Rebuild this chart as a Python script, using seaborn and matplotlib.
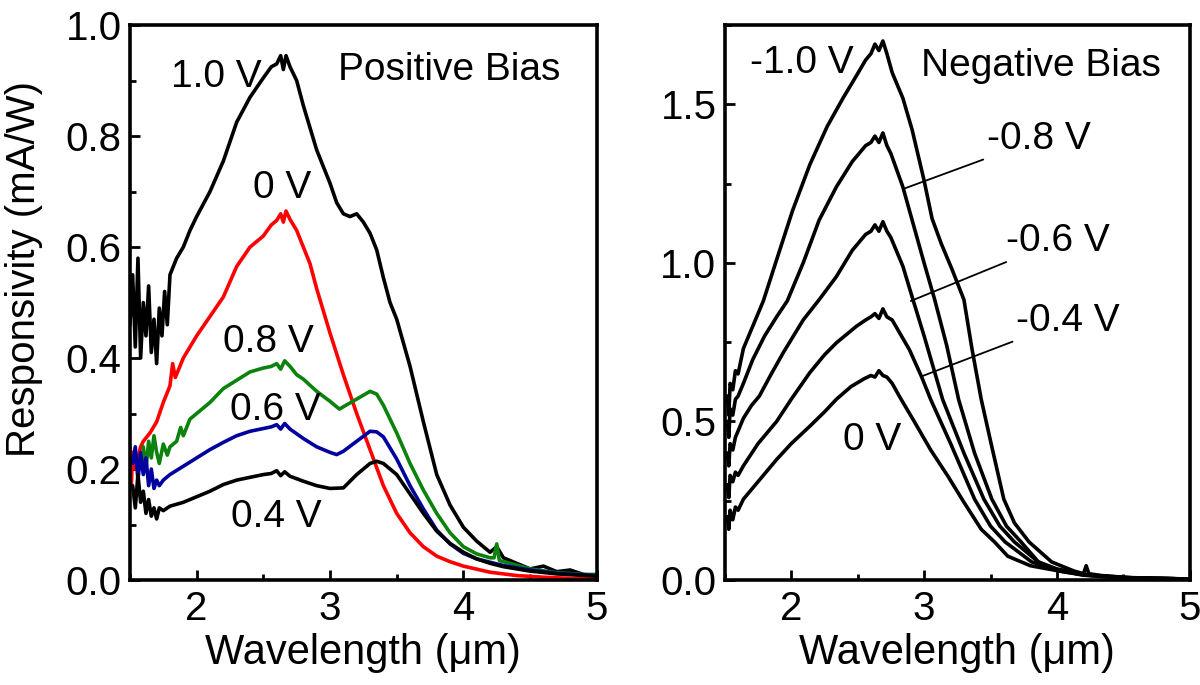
import numpy as np
import pandas as pd
import seaborn as sns
import matplotlib.pyplot as plt
from matplotlib.ticker import MultipleLocator

# ===============================
# Positive bias curves (left panel)
# ===============================
pos_10_x = [1.50, 1.52, 1.54, 1.56, 1.58, 1.60, 1.62, 1.64, 1.66, 1.68, 1.70, 1.72, 1.74, 1.76, 1.78,
            1.80, 1.85, 1.90, 1.95, 2.00, 2.10, 2.20, 2.30, 2.40, 2.50, 2.56, 2.60, 2.63, 2.65, 2.67,
            2.70, 2.75, 2.80, 2.90, 3.00, 3.05, 3.10, 3.15, 3.20, 3.25, 3.30, 3.35, 3.40, 3.45, 3.50,
            3.60, 3.70, 3.80, 3.90, 4.00, 4.10, 4.20, 4.25, 4.30, 4.40, 4.50, 4.60, 4.70, 4.80, 4.90, 5.00]
pos_10_y = [0.46, 0.55, 0.42, 0.58, 0.40, 0.50, 0.44, 0.53, 0.41, 0.47, 0.39, 0.49, 0.44, 0.52, 0.46,
            0.55, 0.58, 0.60, 0.63, 0.655, 0.70, 0.755, 0.825, 0.87, 0.905, 0.925, 0.93, 0.945, 0.92, 0.945,
            0.925, 0.90, 0.855, 0.775, 0.715, 0.68, 0.66, 0.655, 0.66, 0.645, 0.625, 0.595, 0.545, 0.50, 0.47,
            0.385, 0.285, 0.19, 0.135, 0.095, 0.07, 0.05, 0.06, 0.04, 0.03, 0.02, 0.025, 0.015, 0.018, 0.01, 0.008]

pos_00_x = [1.50, 1.51, 1.52, 1.54, 1.56, 1.58, 1.60, 1.65, 1.70, 1.75, 1.80, 1.82, 1.84, 1.90, 2.00,
            2.10, 2.20, 2.30, 2.40, 2.50, 2.56, 2.60, 2.63, 2.65, 2.67, 2.70, 2.75, 2.80, 2.85, 2.90,
            3.00, 3.10, 3.20, 3.30, 3.40, 3.50, 3.60, 3.70, 3.80, 3.90, 4.00, 4.20, 4.40, 4.60, 4.80, 5.00]
pos_00_y = [0.24, 0.17, 0.23, 0.20, 0.22, 0.24, 0.25, 0.265, 0.285, 0.32, 0.35, 0.39, 0.365, 0.40, 0.44,
            0.475, 0.51, 0.565, 0.60, 0.62, 0.64, 0.648, 0.66, 0.645, 0.665, 0.65, 0.63, 0.60, 0.57, 0.525,
            0.445, 0.37, 0.30, 0.235, 0.17, 0.12, 0.085, 0.06, 0.043, 0.033, 0.025, 0.014, 0.008, 0.005, 0.003, 0.002]

pos_08_x = [1.60, 1.62, 1.64, 1.66, 1.68, 1.70, 1.72, 1.75, 1.78, 1.80, 1.85, 1.88, 1.90, 1.95, 2.00,
            2.05, 2.10, 2.20, 2.30, 2.40, 2.50, 2.56, 2.60, 2.63, 2.66, 2.70, 2.75, 2.80, 2.90, 3.00,
            3.07, 3.12, 3.20, 3.30, 3.35, 3.40, 3.50, 3.60, 3.70, 3.80, 3.90, 4.00, 4.10, 4.20, 4.23,
            4.25, 4.27, 4.35, 4.50, 4.70, 4.90, 5.00]
pos_08_y = [0.24, 0.20, 0.25, 0.22, 0.26, 0.23, 0.21, 0.245, 0.225, 0.24, 0.25, 0.275, 0.26, 0.29, 0.30,
            0.31, 0.32, 0.345, 0.36, 0.375, 0.382, 0.385, 0.39, 0.38, 0.395, 0.385, 0.37, 0.362, 0.34, 0.322,
            0.308, 0.315, 0.326, 0.34, 0.335, 0.315, 0.265, 0.21, 0.162, 0.12, 0.085, 0.06, 0.047, 0.04, 0.04,
            0.065, 0.035, 0.03, 0.02, 0.013, 0.01, 0.01]

pos_06_x = [1.52, 1.54, 1.56, 1.58, 1.60, 1.62, 1.64, 1.66, 1.68, 1.70, 1.72, 1.75, 1.80, 1.90, 2.00,
            2.10, 2.20, 2.30, 2.40, 2.50, 2.56, 2.60, 2.63, 2.66, 2.70, 2.80, 2.90, 3.00, 3.05, 3.10,
            3.20, 3.30, 3.35, 3.40, 3.50, 3.60, 3.70, 3.80, 3.90, 4.00, 4.10, 4.20, 4.30, 4.50, 4.70, 5.00]
pos_06_y = [0.21, 0.24, 0.18, 0.23, 0.19, 0.22, 0.17, 0.20, 0.165, 0.18, 0.17, 0.18, 0.19, 0.205, 0.22,
            0.235, 0.248, 0.26, 0.268, 0.273, 0.276, 0.28, 0.272, 0.282, 0.272, 0.255, 0.24, 0.23, 0.226, 0.232,
            0.25, 0.268, 0.267, 0.258, 0.218, 0.17, 0.128, 0.09, 0.065, 0.048, 0.038, 0.032, 0.026, 0.018, 0.012, 0.008]

pos_04_x = [1.52, 1.54, 1.56, 1.58, 1.60, 1.62, 1.64, 1.66, 1.68, 1.70, 1.72, 1.75, 1.80, 1.90, 2.00,
            2.10, 2.20, 2.30, 2.40, 2.50, 2.56, 2.60, 2.63, 2.66, 2.70, 2.80, 2.90, 3.00, 3.10, 3.20,
            3.30, 3.35, 3.40, 3.50, 3.60, 3.70, 3.80, 3.90, 4.00, 4.10, 4.20, 4.30, 4.50, 4.70, 5.00]
pos_04_y = [0.17, 0.13, 0.19, 0.14, 0.16, 0.12, 0.145, 0.115, 0.13, 0.11, 0.13, 0.125, 0.133, 0.14, 0.15,
            0.16, 0.172, 0.18, 0.185, 0.19, 0.192, 0.197, 0.188, 0.195, 0.187, 0.178, 0.17, 0.165, 0.166, 0.19,
            0.21, 0.214, 0.21, 0.19, 0.155, 0.12, 0.088, 0.066, 0.05, 0.038, 0.03, 0.024, 0.016, 0.011, 0.007]

# ===============================
# Negative bias curves (right panel)
# ===============================
neg_10_x = [1.52, 1.53, 1.54, 1.56, 1.58, 1.60, 1.64, 1.70, 1.79, 1.89, 2.01, 2.14, 2.27, 2.39, 2.49,
            2.56, 2.60, 2.63, 2.66, 2.69, 2.72, 2.76, 2.84, 2.91, 3.00, 3.06, 3.13, 3.21, 3.30, 3.36,
            3.43, 3.51, 3.60, 3.68, 3.79, 3.96, 4.13, 4.20, 4.22, 4.24, 4.33, 4.60, 5.00]
neg_10_y = [0.58, 0.52, 0.62, 0.60, 0.66, 0.65, 0.73, 0.79, 0.88, 1.01, 1.165, 1.31, 1.43, 1.52, 1.59,
            1.64, 1.66, 1.69, 1.67, 1.70, 1.66, 1.60, 1.52, 1.42, 1.26, 1.14, 1.06, 0.98, 0.884, 0.73,
            0.57, 0.42, 0.255, 0.18, 0.12, 0.057, 0.028, 0.02, 0.045, 0.02, 0.014, 0.006, 0.003]

neg_08_x = [1.52, 1.53, 1.54, 1.56, 1.58, 1.60, 1.64, 1.71, 1.80, 1.89, 1.97, 2.09, 2.21, 2.34, 2.46,
            2.56, 2.60, 2.63, 2.66, 2.69, 2.72, 2.75, 2.84, 2.91, 3.00, 3.08, 3.17, 3.26, 3.38, 3.51,
            3.62, 3.73, 3.86, 4.00, 4.20, 4.50, 5.00]
neg_08_y = [0.50, 0.45, 0.54, 0.52, 0.57, 0.58, 0.62, 0.695, 0.77, 0.83, 0.88, 1.00, 1.135, 1.24, 1.32,
            1.37, 1.38, 1.40, 1.38, 1.41, 1.37, 1.345, 1.24, 1.135, 1.00, 0.884, 0.74, 0.569, 0.40, 0.255,
            0.17, 0.12, 0.057, 0.03, 0.015, 0.007, 0.003]

neg_06_x = [1.52, 1.53, 1.54, 1.56, 1.58, 1.60, 1.64, 1.70, 1.76, 1.85, 1.94, 2.09, 2.21, 2.34, 2.46,
            2.56, 2.60, 2.63, 2.66, 2.69, 2.72, 2.75, 2.84, 2.91, 3.00, 3.14, 3.30, 3.45, 3.57, 3.68,
            3.86, 4.00, 4.20, 4.50, 5.00]
neg_06_y = [0.40, 0.36, 0.43, 0.41, 0.45, 0.47, 0.51, 0.55, 0.58, 0.65, 0.717, 0.82, 0.884, 0.957, 1.04,
            1.09, 1.10, 1.12, 1.10, 1.13, 1.10, 1.08, 0.99, 0.893, 0.77, 0.569, 0.40, 0.255, 0.17, 0.12,
            0.057, 0.035, 0.018, 0.008, 0.003]

neg_04_x = [1.52, 1.53, 1.54, 1.56, 1.58, 1.60, 1.64, 1.75, 1.89, 2.00, 2.14, 2.25, 2.34, 2.49, 2.56,
            2.60, 2.63, 2.66, 2.69, 2.72, 2.76, 2.89, 2.98, 3.05, 3.20, 3.38, 3.50, 3.61, 3.81, 4.00,
            4.20, 4.50, 5.00]
neg_04_y = [0.30, 0.26, 0.33, 0.31, 0.34, 0.33, 0.36, 0.43, 0.50, 0.57, 0.654, 0.71, 0.748, 0.80, 0.82,
            0.83, 0.84, 0.825, 0.855, 0.83, 0.82, 0.726, 0.642, 0.569, 0.43, 0.255, 0.17, 0.12, 0.057, 0.032,
            0.016, 0.007, 0.003]

neg_00_x = [1.52, 1.53, 1.54, 1.56, 1.58, 1.60, 1.64, 1.70, 1.80, 1.89, 2.00, 2.14, 2.25, 2.34, 2.45,
            2.55, 2.60, 2.63, 2.66, 2.69, 2.72, 2.76, 2.82, 2.93, 3.05, 3.18, 3.30, 3.43, 3.53, 3.63,
            3.80, 4.06, 4.30, 4.60, 5.00]
neg_00_y = [0.20, 0.16, 0.22, 0.19, 0.23, 0.22, 0.255, 0.285, 0.335, 0.38, 0.43, 0.485, 0.53, 0.57, 0.61,
            0.635, 0.645, 0.64, 0.66, 0.645, 0.64, 0.62, 0.575, 0.497, 0.41, 0.327, 0.245, 0.16, 0.12, 0.075,
            0.045, 0.025, 0.012, 0.006, 0.003]

pos_series = [(pos_10_x, pos_10_y, '#000000'), (pos_00_x, pos_00_y, '#ff0000'),
              (pos_08_x, pos_08_y, '#0b820b'), (pos_06_x, pos_06_y, '#00009e'),
              (pos_04_x, pos_04_y, '#000000')]
neg_series = [(neg_10_x, neg_10_y), (neg_08_x, neg_08_y), (neg_06_x, neg_06_y),
              (neg_04_x, neg_04_y), (neg_00_x, neg_00_y)]

sns.set_theme(style='ticks', rc={'axes.edgecolor': 'black', 'text.color': 'black',
                                 'axes.labelcolor': 'black', 'xtick.color': 'black',
                                 'ytick.color': 'black'})
plt.rcParams['font.family'] = ['Liberation Sans', 'DejaVu Sans']

fig = plt.figure(figsize=(12, 6.85), dpi=100)
ax1 = fig.add_axes([0.1083, 0.1533, 0.389, 0.810])
ax2 = fig.add_axes([0.604, 0.1533, 0.3875, 0.810])

for x, y, c in pos_series:
    sns.lineplot(x=x, y=y, ax=ax1, color=c, lw=2.6, estimator=None, sort=False)
for x, y in neg_series:
    sns.lineplot(x=x, y=y, ax=ax2, color='black', lw=2.6, estimator=None, sort=False)

for ax in (ax1, ax2):
    ax.set_xlim(1.5, 5)
    ax.xaxis.set_major_locator(MultipleLocator(1))
    ax.xaxis.set_minor_locator(MultipleLocator(0.5))
    ax.tick_params(which='both', direction='in', top=False, right=False, width=2)
    ax.tick_params(which='major', length=7, labelsize=29, pad=6)
    ax.tick_params(axis='x', which='major', pad=7)
    ax.tick_params(which='minor', length=4)
    for s in ax.spines.values():
        s.set_linewidth(2.6)
    ax.set_xlabel('Wavelength (\u03bcm)', fontsize=30, labelpad=4)

ax1.set_ylim(0, 1.0)
ax1.yaxis.set_major_locator(MultipleLocator(0.2))
ax1.yaxis.set_minor_locator(MultipleLocator(0.1))
ax1.set_ylabel('Responsivity (mA/W)', fontsize=29)
ax1.yaxis.set_label_coords(-0.186, 0.56)

ax2.set_ylim(0, 1.75)
ax2.yaxis.set_major_locator(MultipleLocator(0.5))
ax2.yaxis.set_minor_locator(MultipleLocator(0.25))
ax2.set_ylabel('')

# labels on the left panel
txt = dict(fontsize=28, va='center', ha='left')
ax1.text(1.81, 0.906, '1.0 V', **txt)
ax1.text(2.42, 0.706, '0 V', **txt)
ax1.text(3.06, 0.92, 'Positive Bias', **txt)
ax1.text(2.20, 0.429, '0.8 V', **txt)
ax1.text(2.25, 0.306, '0.6 V', **txt)
ax1.text(2.26, 0.114, '0.4 V', **txt)

# labels on the right panel
ax2.text(1.69, 1.63, '-1.0 V', **txt)
ax2.text(2.98, 1.62, 'Negative Bias', **txt)
ax2.text(2.39, 0.443, '0 V', **txt)
line = dict(arrowstyle='-', lw=1.3, color='black', shrinkA=0, shrinkB=0)
ax2.annotate('-0.8 V', xy=(2.86, 1.236), xytext=(3.47, 1.39), arrowprops=line, **txt)
ax2.annotate('-0.6 V', xy=(2.90, 0.88), xytext=(3.62, 1.07), arrowprops=line, **txt)
ax2.annotate('-0.4 V', xy=(2.98, 0.642), xytext=(3.69, 0.818), arrowprops=line, **txt)

fig.savefig('out.png', dpi=100)
